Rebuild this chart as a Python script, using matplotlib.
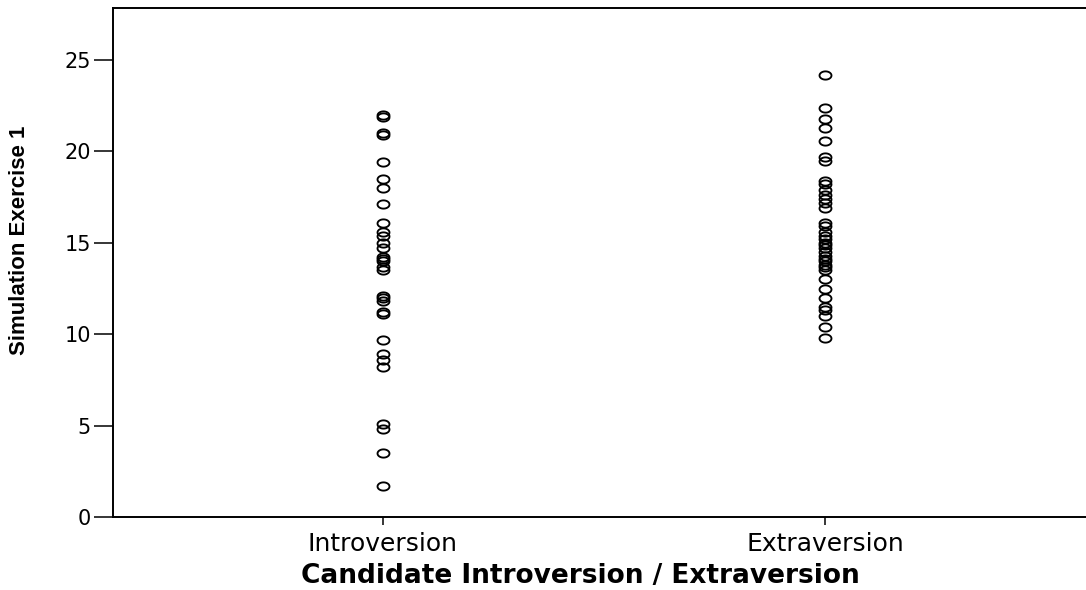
import matplotlib
matplotlib.use("Agg")
import matplotlib.pyplot as plt
import numpy as np
from matplotlib.path import Path

# values
categories = ["Introversion", "Extraversion"]
intro = [22.0, 21.9, 21.0, 20.9, 19.4, 18.5, 18.0, 17.1, 16.1, 15.6, 15.4, 15.0,
         14.7, 14.2, 14.1, 14.0, 13.7, 13.5, 12.1, 12.0, 11.8, 11.2, 11.1, 9.7,
         8.9, 8.6, 8.2, 5.1, 4.8, 3.5, 1.7]
extra = [24.2, 22.4, 21.8, 21.3, 20.6, 19.7, 19.5, 18.4, 18.2, 17.9, 17.6, 17.4,
         17.2, 16.9, 16.1, 15.9, 15.6, 15.4, 15.2, 15.0, 14.9, 14.7, 14.5, 14.3,
         14.1, 14.0, 13.8, 13.7, 13.5, 13.0, 12.5, 12.0, 11.5, 11.3, 11.0, 10.4, 9.8]
yticks = [0, 5, 10, 15, 20, 25]

W, H = 1086, 590
fig = plt.figure(figsize=(W / 100, H / 100), dpi=100)
ax = fig.add_axes([113 / W, 73 / H, 1 - 113 / W, 509 / H])

# wide ellipse marker, like the stretched SPSS circles
t = np.linspace(0, 2 * np.pi, 60)
ell = Path(np.column_stack([1.45 * np.cos(t), np.sin(t)]), closed=True)

for i, vals in enumerate([intro, extra]):
    ax.plot([i + 1] * len(vals), vals, linestyle="none", marker=ell,
            markersize=8.6, markerfacecolor="none", markeredgecolor="black",
            markeredgewidth=1.35)

ax.set_xlim(1 - 270 / 442, 2 + 261 / 442)
ax.set_ylim(0, 27.85)
ax.set_xticks([1, 2])
ax.set_xticklabels(categories, fontsize=18, family="DejaVu Sans")
ax.set_yticks(yticks)
ax.set_yticklabels([str(v) for v in yticks], fontsize=15, family="DejaVu Sans")
ax.tick_params(axis="y", length=14, width=1.1, pad=2)
ax.tick_params(axis="x", length=6, width=1.1, pad=5)

for s in ("left", "bottom", "top"):
    ax.spines[s].set_linewidth(1.4)
ax.spines["right"].set_visible(False)

fig.text(580 / W, 1 - 576 / H, "Candidate Introversion / Extraversion",
         ha="center", va="center", fontsize=19, fontweight="bold",
         family="DejaVu Sans")
fig.text(20 / W, 1 - 240 / H, "Simulation Exercise 1", rotation=90,
         ha="center", va="center", fontsize=16, fontweight="bold",
         family="Liberation Sans")

fig.savefig("out.png", dpi=100, facecolor="white")
